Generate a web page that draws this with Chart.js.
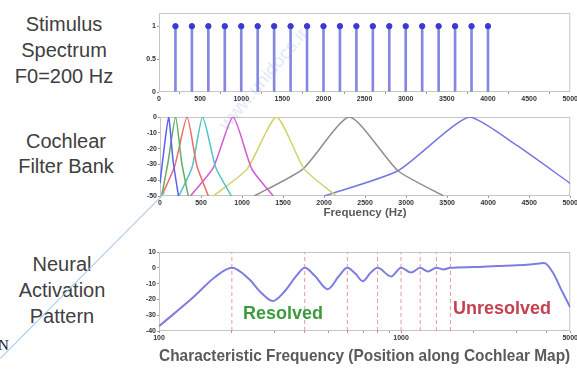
<!DOCTYPE html>
<html>
<head>
<meta charset="utf-8">
<script src="https://cdn.jsdelivr.net/npm/chart.js@4"></script>
<style>
html, body { margin: 0; padding: 0; background: #fff; width: 577px; height: 369px; overflow: hidden; position: relative; font-family: 'Liberation Sans', Arial, sans-serif; }
.side { position: absolute; text-align: center; color: #404040; font-size: 20px; }
.box { position: absolute; }
.note { position: absolute; font-weight: bold; font-size: 18px; }
</style>
</head>
<body>

<div class="side" style="left:0; top:11px; width:128px; line-height:26px;">Stimulus<br>Spectrum<br>F0=200 Hz</div>
<div class="side" style="left:1px; top:129px; width:130px; line-height:25px;">Cochlear<br>Filter Bank</div>
<div class="side" style="left:0; top:251px; width:124px; line-height:26px;">Neural<br>Activation<br>Pattern</div>

<div class="box" style="left:125px; top:0; width:454px; height:108px;"><canvas id="spectrumChart" width="454" height="108"></canvas></div>
<div class="box" style="left:125px; top:105px; width:454px; height:115px;"><canvas id="filterChart" width="454" height="115"></canvas></div>
<div class="box" style="left:125px; top:240px; width:454px; height:126px;"><canvas id="neuralChart" width="454" height="126"></canvas></div>

<div class="note" style="left:243px; top:303px; color:#3d9a3d;">Resolved</div>
<div class="note" style="left:453px; top:298px; color:#c2434d;">Unresolved</div>

<!-- scan artefacts of the source picture -->
<div style="position:absolute; left:-2px; top:337px; font-family:'Liberation Serif', serif; font-size:15px; color:#222;">N</div>
<div style="position:absolute; left:0; top:358px; width:234px; height:1px; background:#a9c8ec; transform-origin:0 0; transform:rotate(-45.2deg);"></div>
<div style="position:absolute; left:200px; top:68px; font-size:19px; color:rgba(120,160,225,0.25); transform:rotate(-50deg); transform-origin:center;">www.unidocs.ir</div>

<script>
// Stimulus spectrum: harmonics of F0 = 200 Hz
const spectrumFreqs = [200, 400, 600, 800, 1000, 1200, 1400, 1600, 1800, 2000,
                       2200, 2400, 2600, 2800, 3000, 3200, 3400, 3600, 3800, 4000];
const spectrumAmps = [1, 1, 1, 1, 1, 1, 1, 1, 1, 1, 1, 1, 1, 1, 1, 1, 1, 1, 1, 1];
const spectrumYTicks = [0, 0.5, 1];
const freqTicks = [0, 500, 1000, 1500, 2000, 2500, 3000, 3500, 4000, 4500, 5000];

// Cochlear filter bank, [Hz, dB] points
const filterBlueLow = [[0, -42], [50, -20], [105, 0], [160, -28], [225, -50]];
const filterGreen = [[20, -50], [100, -28], [190, 0], [265, -29], [345, -50]];
const filterRed = [[20, -50], [180, -31], [330, 0], [450, -31], [590, -50]];
const filterCyan = [[230, -50], [390, -32], [520, 0], [680, -32], [870, -50]];
const filterMagenta = [[370, -50], [650, -32], [890, 0], [1120, -33], [1380, -50]];
const filterYellow = [[650, -50], [1060, -33], [1420, 0], [1760, -33], [2150, -50]];
const filterGray = [[1150, -50], [1740, -33], [2310, 0], [2900, -34], [3460, -50]];
const filterBlueHigh = [[2000, -50], [2900, -34], [3770, 0], [4350, -18], [5000, -42]];
const filterColors = ['#5d5df0', '#5fb05f', '#ef6a6a', '#4fc4c4', '#d25ad2', '#d2d26a', '#8e8e8e', '#7676e4'];
const filterYTicks = [0, -10, -20, -30, -40, -50];

// Neural activation pattern along the cochlear map
const neuralFreqs = [100, 140, 170, 200, 235, 265, 295, 330, 370, 400, 440, 498, 555, 600,
                     650, 695, 750, 800, 910, 1000, 1100, 1200, 1290, 1400, 1500, 1600,
                     2000, 2500, 3000, 3500, 3900, 4240, 4580, 5000];
const neuralLevels = [-37, -18, -6, 0, -7, -16, -21, -15, -5, 0, -5, -13.5, -5, 0,
                      -4, -8.5, -3, 0, -5.5, 0, -3, 0, -2.3, 0, -1, 0,
                      0.5, 1.2, 1.6, 2.3, 3, -3, -13.5, -25];
const resolvedHarmonics = [200, 400, 600, 800, 1000, 1200, 1400, 1600];
const neuralXTicks = [100, 200, 300, 400, 500, 600, 700, 800, 900, 1000, 2000, 3000, 4000, 5000];
const neuralXLabels = [100, 1000, 5000];
const neuralYTicks = [10, 0, -10, -20, -30, -40];

Chart.defaults.font.family = 'Liberation Sans';
Chart.defaults.animation = false;

const tickFont = { size: 7, weight: 'bold' };

// box round the plot area, like the original figure
const framePlugin = {
    id: 'frame',
    beforeDatasetsDraw(chart) {
        const { ctx, chartArea: a } = chart;
        ctx.save();
        ctx.strokeStyle = '#c6c6c6';
        ctx.lineWidth = 1;
        ctx.strokeRect(a.left + 0.5, a.top + 0.5, a.width - 1, a.height - 1);
        ctx.restore();
    }
};

function axis(extra, ticks, size, isX) {
    return Object.assign({
        grid: { drawOnChartArea: false, drawTicks: true, tickLength: 2, color: '#9a9a9a' },
        border: { display: false },
        afterBuildTicks: s => { s.ticks = ticks.map(v => ({ value: v })); },
        afterFit: s => { if (isX) s.height = size; else s.width = size; },
        ticks: { font: tickFont, color: '#333', padding: 1, autoSkip: false, maxRotation: 0,
                 callback: v => String(v) }
    }, extra);
}

function baseOptions(padTop, xScale, yScale) {
    return {
        responsive: false,
        layout: { padding: { top: padTop, right: 8, left: 0, bottom: 0 } },
        plugins: { legend: { display: false }, tooltip: { enabled: false } },
        scales: { x: xScale, y: yScale }
    };
}

// panel 1: stem plot
const spectrumPoints = spectrumFreqs.map((f, i) => ({ x: f, y: spectrumAmps[i] }));
new Chart(document.getElementById('spectrumChart'), {
    type: 'bar',
    data: {
        datasets: [
            { type: 'scatter', data: spectrumPoints, pointRadius: 2.7, pointBackgroundColor: '#3a3ad0', pointBorderColor: '#3a3ad0' },
            { type: 'bar', data: spectrumPoints, backgroundColor: '#8787e2', barThickness: 2 }
        ]
    },
    options: baseOptions(13,
        axis({ type: 'linear', min: 0, max: 5000, offset: false }, freqTicks, 16, true),
        axis({ type: 'linear', min: 0, max: 1.2 }, spectrumYTicks, 34, false)),
    plugins: [framePlugin]
});

// panel 2: filter bank
const filterCurves = [filterBlueLow, filterGreen, filterRed, filterCyan,
                      filterMagenta, filterYellow, filterGray, filterBlueHigh];
new Chart(document.getElementById('filterChart'), {
    type: 'line',
    data: {
        datasets: filterCurves.map((pts, i) => ({
            data: pts.map(p => ({ x: p[0], y: p[1] })),
            borderColor: filterColors[i],
            borderWidth: 1.5,
            pointRadius: 0,
            tension: 0.2
        }))
    },
    options: baseOptions(12,
        axis({ type: 'linear', min: 0, max: 5000,
               title: { display: true, text: 'Frequency (Hz)', color: '#5a5a5a', padding: 0,
                        font: { size: 11.5, weight: 'bold' } } }, freqTicks, 24, true),
        axis({ type: 'linear', min: -50, max: 0 }, filterYTicks, 35, false)),
    plugins: [framePlugin]
});

// panel 3: neural activation pattern
const neuralOpts = baseOptions(12,
    axis({ type: 'logarithmic', min: 100, max: 5000,
           title: { display: true, text: 'Characteristic Frequency (Position along Cochlear Map)',
                    color: '#5a5a5a', padding: 0, font: { size: 16.5, weight: 'bold' } } },
         neuralXTicks, 35, true),
    axis({ type: 'linear', min: -40, max: 10 }, neuralYTicks, 34, false));
neuralOpts.scales.x.ticks.callback = v => neuralXLabels.includes(v) ? String(v) : '';

new Chart(document.getElementById('neuralChart'), {
    type: 'line',
    data: {
        datasets: [
            {
                data: neuralFreqs.map((f, i) => ({ x: f, y: neuralLevels[i] })),
                borderColor: '#7d7de2',
                borderWidth: 2,
                pointRadius: 0,
                cubicInterpolationMode: 'monotone'
            },
            ...resolvedHarmonics.map(f => ({
                data: [{ x: f, y: -40 }, { x: f, y: 10 }],
                borderColor: '#e89a9a',
                borderWidth: 1,
                borderDash: [4, 3],
                pointRadius: 0
            }))
        ]
    },
    options: neuralOpts,
    plugins: [framePlugin]
});
</script>
</body>
</html>
